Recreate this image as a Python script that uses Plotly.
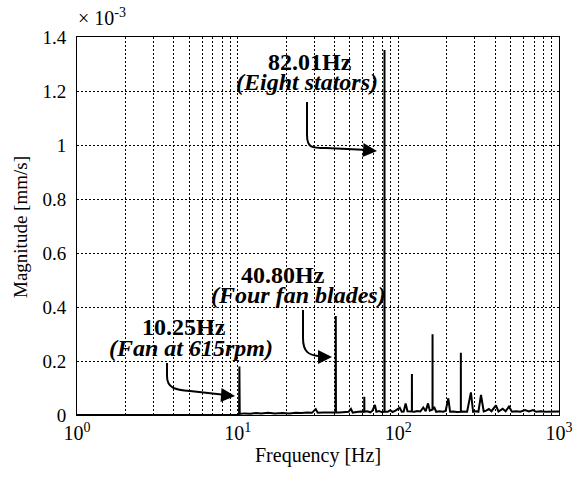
import plotly.graph_objects as go

# ---------------- data (magnitude in units of 1e-3 mm/s) ----------------
freq_hz = [1.0, 10.2, 10.25, 10.3, 11, 12, 13, 14, 15.5, 17, 19, 21, 23, 25, 27, 29,
           30.6, 31.5, 34, 37, 40.7, 40.8, 40.9, 43, 46, 49, 50.7, 52, 55, 58,
           61.3, 61.4, 61.5, 64, 67, 69, 71.5, 73, 76, 78.5, 81.9, 82.01, 82.1,
           86, 89, 92, 96, 102, 105, 108, 111, 114, 118, 121.4, 121.5, 121.6,
           126, 131, 137, 143, 148, 153, 157, 163.2, 163.3, 163.4, 167, 172, 180,
           190, 197, 204.6, 210, 220, 232, 244.9, 245, 245.1, 255, 268, 283, 292,
           305, 315, 327, 340, 352, 366, 380, 405, 420, 446, 465, 488, 510, 540,
           575, 614, 650, 689, 720, 770, 820, 870, 930, 1000]
magnitude = [0.0, 0.0, 0.18, 0.004, 0.006, 0.005, 0.007, 0.006, 0.008, 0.006, 0.007,
             0.006, 0.008, 0.007, 0.009, 0.008,
             0.022, 0.008, 0.009, 0.008, 0.009, 0.367, 0.010, 0.009, 0.010, 0.012,
             0.023, 0.009, 0.011, 0.013,
             0.012, 0.068, 0.012, 0.014, 0.010, 0.016, 0.037, 0.012, 0.015, 0.011,
             0.012, 1.352, 0.013,
             0.012, 0.018, 0.011, 0.016, 0.027, 0.012, 0.013, 0.043, 0.014, 0.012,
             0.013, 0.152, 0.013,
             0.012, 0.015, 0.013, 0.028, 0.014, 0.043, 0.016, 0.020, 0.299, 0.020,
             0.030, 0.012, 0.014,
             0.012, 0.015, 0.062, 0.012, 0.013, 0.011, 0.012, 0.231, 0.012, 0.013,
             0.012, 0.084, 0.012,
             0.014, 0.012, 0.074, 0.013, 0.016, 0.022, 0.014, 0.036, 0.013, 0.023,
             0.014, 0.031, 0.012, 0.014,
             0.012, 0.018, 0.013, 0.018, 0.012, 0.014, 0.012, 0.013, 0.012, 0.013]

y_ticks = [0, 0.2, 0.4, 0.6, 0.8, 1.0, 1.2, 1.4]
y_ticktext = ["0", "0.2", "0.4", "0.6", "0.8", "1", "1.2", "1.4"]
x_major = [1, 10, 100, 1000]
x_major_text = ["10<sup>0</sup>", "10<sup>1</sup>", "10<sup>2</sup>", "10<sup>3</sup>"]

peak_labels = ["82.01Hz", "40.80Hz", "10.25Hz"]
peak_notes = ["(Eight stators)", "(Four fan blades)", "(Fan at 615rpm)"]

# ---------------- figure ----------------
FONT = "Liberation Serif"
W, H = 574, 477
L, R, T, B = 77, 15, 37, 62
PW, PH = W - L - R, H - T - B

def px(X):
    return (X - L) / PW

def py(Y):
    return (H - B - Y) / PH

# grid positions on log axis: 1..9 per decade
x_grid = []
x_grid_text = []
for dec in [1, 10, 100]:
    for m in range(1, 10):
        v = dec * m
        x_grid.append(v)
        x_grid_text.append(x_major_text[x_major.index(v)] if v in x_major else "")
x_grid.append(1000)
x_grid_text.append(x_major_text[3])

fig = go.Figure()
fig.add_trace(go.Scatter(x=freq_hz, y=magnitude, mode="lines",
                         line=dict(color="black", width=2), showlegend=False))

fig.update_layout(
    width=W, height=H, autosize=False,
    margin=dict(l=L, r=R, t=T, b=B, autoexpand=False),
    paper_bgcolor="white", plot_bgcolor="white",
    font=dict(family=FONT, size=19, color="black"),
    xaxis=dict(type="log", range=[0, 3], tickvals=x_grid, ticktext=x_grid_text,
               showgrid=True, gridcolor="black", gridwidth=1, griddash="2px,2px",
               showline=True, linecolor="black", linewidth=1, mirror=True,
               ticks="", zeroline=False, tickfont=dict(size=20), automargin=False),
    yaxis=dict(range=[0, 1.4], tickvals=y_ticks, ticktext=y_ticktext,
               showgrid=True, gridcolor="black", gridwidth=1, griddash="2px,2px",
               showline=True, linecolor="black", linewidth=1, mirror=True,
               ticks="", zeroline=False, tickfont=dict(size=19), automargin=False,
               ticklabelstandoff=6),
)

def txt(text, X, Y, size, **kw):
    d = dict(text=text, xref="paper", yref="paper", x=px(X), y=py(Y),
             xanchor="center", yanchor="middle", showarrow=False, font=dict(size=size))
    d.update(kw)
    return d

ann = []
# axis titles and exponent
ann.append(txt("Frequency [Hz]", 318, 455, 20))
ann.append(txt("Magnitude [mm/s]", 20, 227, 19, textangle=-90))
ann.append(txt("\u00d7 10<sup>-3</sup>", 76, 17, 20, xanchor="left"))

# peak annotation texts
label_pos = [((310, 62), (307, 82)), ((283, 275), (298, 295)), ((184, 327), (191, 348))]
for lab, note, (p1, p2) in zip(peak_labels, peak_notes, label_pos):
    ann.append(txt("<b>" + lab + "</b>", p1[0], p1[1], 24))
    ann.append(txt("<b><i>" + note + "</i></b>", p2[0], p2[1], 24))

# curved arrows (decorations in pixel space)
arrows = [
    [(307, 102), (307, 135), (307, 148), (312, 148), (326, 148), (368, 150), (377, 151)],
    [(303, 310), (303, 338), (303, 352), (309, 355), (318, 356), (325, 357), (332, 357)],
    [(167, 363), (167, 376), (167, 388), (175, 390), (190, 391), (226, 395), (235, 396)],
]
shapes = []
for a in arrows:
    p0, p1, c1, c2, p2, p3, tip = a
    path = (f"M {px(p0[0])},{py(p0[1])} L {px(p1[0])},{py(p1[1])} "
            f"C {px(c1[0])},{py(c1[1])} {px(c2[0])},{py(c2[1])} {px(p2[0])},{py(p2[1])} "
            f"L {px(p3[0])},{py(p3[1])}")
    shapes.append(dict(type="path", path=path, xref="paper", yref="paper",
                       line=dict(color="black", width=2)))
    ann.append(dict(text="", xref="paper", yref="paper", x=px(tip[0]), y=py(tip[1]),
                    ax=p3[0] - tip[0] - 6, ay=p3[1] - tip[1], showarrow=True,
                    arrowhead=2, arrowsize=1.4, arrowwidth=2, arrowcolor="black"))

fig.update_layout(annotations=ann, shapes=shapes)
fig.write_html("out.html")
